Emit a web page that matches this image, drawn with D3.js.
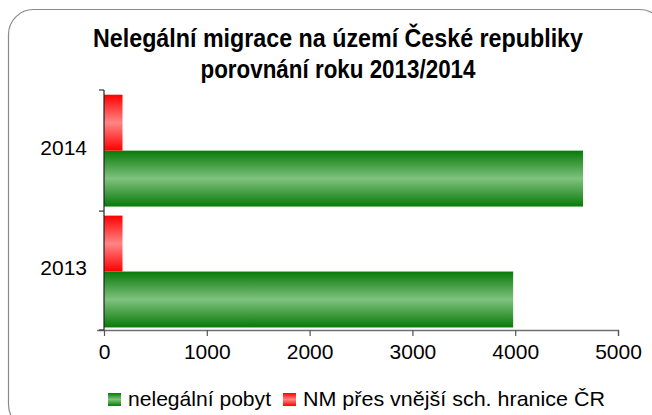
<!DOCTYPE html>
<html>
<head>
<meta charset="utf-8">
<script src="https://cdn.jsdelivr.net/npm/d3@7"></script>
<style>
  body { margin: 0; background: #fff; }
  text { font-family: "Liberation Sans", Arial, sans-serif; fill: #000; }
</style>
</head>
<body>
<script>
// data
var years = ["2014", "2013"];
var pobyt = [4660, 3980];          // nelegální pobyt
var hranice = [180, 180];          // NM přes vnější sch. hranice ČR
var xTicks = [0, 1000, 2000, 3000, 4000, 5000];
var seriesNames = ["nelegální pobyt", "NM přes vnější sch. hranice ČR"];
var titleLines = ["Nelegální migrace na území České republiky", "porovnání roku 2013/2014"];

var width = 652, height = 415;

var svg = d3.select("body").append("svg")
    .attr("width", width)
    .attr("height", height);

// gradients like the excel fill
var defs = svg.append("defs");
function grad(id, edge, mid) {
    var g = defs.append("linearGradient").attr("id", id)
        .attr("x1", 0).attr("y1", 0).attr("x2", 0).attr("y2", 1);
    g.append("stop").attr("offset", "0%").attr("stop-color", edge);
    g.append("stop").attr("offset", "50%").attr("stop-color", mid);
    g.append("stop").attr("offset", "100%").attr("stop-color", edge);
}
grad("gGreen", "#087a08", "#7fc27f");
grad("gRed", "#ff0000", "#ff8585");

// chart border
svg.append("rect")
    .attr("x", 8.5).attr("y", 9.5)
    .attr("width", 656).attr("height", 420)
    .attr("rx", 25)
    .attr("fill", "#fff")
    .attr("stroke", "#8a8a8a")
    .attr("stroke-width", 1.2);

// title
svg.selectAll(".title").data(titleLines).enter().append("text")
    .attr("class", "title")
    .attr("x", 338)
    .attr("y", (d, i) => i == 0 ? 46.5 : 77.5)
    .attr("text-anchor", "middle")
    .attr("font-size", "25px")
    .attr("font-weight", "bold")
    .attr("textLength", (d, i) => i == 0 ? 490 : 275)
    .attr("lengthAdjust", "spacingAndGlyphs")
    .text(d => d);

var x = d3.scaleLinear().domain([0, 5000]).range([104, 618]);
var y = d3.scaleBand().domain(years).range([90, 330])
    .paddingInner(0.075).paddingOuter(0.03).align(0.65);
var ySub = d3.scaleBand().domain(["hranice", "pobyt"]).range([0, y.bandwidth()]);

var rows = years.map((yr, i) => ({ year: yr, pobyt: pobyt[i], hranice: hranice[i] }));

var plot = svg.append("g");

plot.selectAll(".bar-p").data(rows).enter().append("rect")
    .attr("class", "bar-p")
    .attr("x", x(0))
    .attr("y", d => y(d.year) + ySub("pobyt"))
    .attr("width", d => x(d.pobyt) - x(0))
    .attr("height", ySub.bandwidth())
    .attr("fill", "url(#gGreen)");

plot.selectAll(".bar-h").data(rows).enter().append("rect")
    .attr("class", "bar-h")
    .attr("x", x(0))
    .attr("y", d => y(d.year) + ySub("hranice"))
    .attr("width", d => x(d.hranice) - x(0))
    .attr("height", ySub.bandwidth())
    .attr("fill", "url(#gRed)");

// x axis
var xAxis = svg.append("g")
    .attr("transform", "translate(0,330)")
    .call(d3.axisBottom(x).tickValues(xTicks).tickSize(6).tickPadding(20).tickFormat(d3.format("d")));
xAxis.select(".domain").attr("stroke", "#707070").attr("stroke-width", 1.3)
    .attr("d", "M97,0.5H618.5V6");
xAxis.selectAll(".tick line").attr("stroke", "#555").attr("stroke-width", 1.2);
xAxis.selectAll(".tick text")
    .attr("font-size", "21px")
    .attr("font-family", "Liberation Sans, Arial, sans-serif")
    .attr("fill", "#000")
    .attr("dy", "0.15em");

// y axis: ticks sit on the band boundaries
var yAxis = svg.append("g");
yAxis.append("line")
    .attr("x1", x(0)).attr("x2", x(0))
    .attr("y1", y.range()[0]).attr("y2", y.range()[1])
    .attr("stroke", "#222").attr("stroke-width", 1.2);
var bounds = [y.range()[0], (y("2014") + y.bandwidth() + y("2013")) / 2, y.range()[1]];
yAxis.selectAll(".ytick").data(bounds).enter().append("line")
    .attr("x1", x(0) - 5).attr("x2", x(0))
    .attr("y1", d => d).attr("y2", d => d)
    .attr("stroke", "#333").attr("stroke-width", 1.2);
yAxis.selectAll(".ylab").data(years).enter().append("text")
    .attr("x", 87)
    .attr("y", (d, i) => (bounds[i] + bounds[i + 1]) / 2 + 4.5)
    .attr("text-anchor", "end")
    .attr("font-size", "21px")
    .text(d => d);

// legend
var legend = svg.append("g");
var legItems = [
    { name: seriesNames[0], fill: "url(#gGreen)", sx: 108, tx: 128, tl: 143 },
    { name: seriesNames[1], fill: "url(#gRed)", sx: 283, tx: 303, tl: 302 }
];
legend.selectAll("rect").data(legItems).enter().append("rect")
    .attr("x", d => d.sx).attr("y", 393)
    .attr("width", 13).attr("height", 13)
    .attr("fill", d => d.fill);
legend.selectAll("text").data(legItems).enter().append("text")
    .attr("x", d => d.tx).attr("y", 406)
    .attr("font-size", "21px")
    .attr("textLength", d => d.tl)
    .attr("lengthAdjust", "spacingAndGlyphs")
    .text(d => d.name);
</script>
</body>
</html>
